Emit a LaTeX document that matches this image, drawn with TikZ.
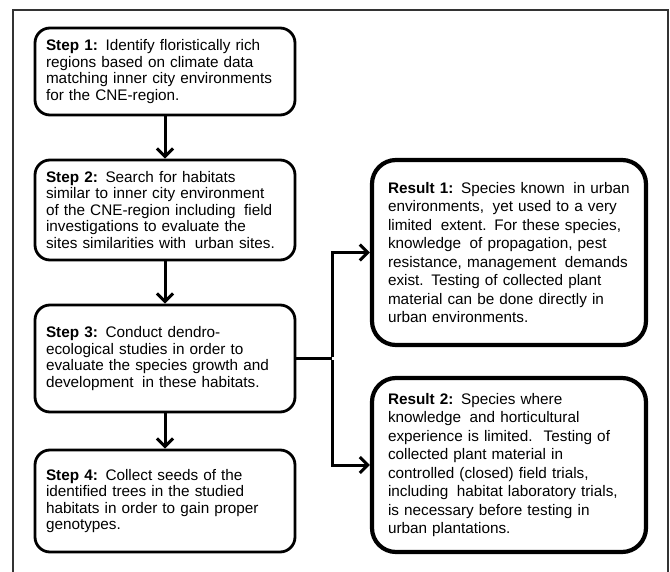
\documentclass[tikz,border=0pt]{standalone}
\usepackage{fontspec}
\setmainfont{Liberation Sans}
\usepackage[none]{hyphenat}
\usetikzlibrary{arrows.meta,calc}
\newcommand{\wgap}{\hspace{3.5pt}}

\begin{document}
\begin{tikzpicture}[x=1pt,y=1pt,
    stepbox/.style={draw,line width=2.8pt,rounded corners=15pt,text width=238pt,inner xsep=11pt,
      minimum width=260pt,align=left,font=\fontsize{15.3}{16.5}\selectfont},
    resultbox/.style={draw,line width=4.2pt,rounded corners=24pt,text width=242pt,inner xsep=16pt,
      minimum width=274pt,align=left,font=\fontsize{15.3}{18.5}\selectfont},
    flow/.style={line width=3pt,-{Straight Barb[length=8pt,width=16pt,line width=3pt]}}]
  \useasboundingbox (0,0) rectangle (670,-572);
  % outer frame, open at the bottom
  \draw[line width=1.4pt,black!80] (13,-572) -- (13,-10) -- (668,-10) -- (668,-572);

  % left column
  \node[stepbox,minimum height=87pt] (step1) at (165,-71.5)
    {\textbf{Step 1:} Identify floristically rich\\regions based on climate data\\matching inner city environments\\for the CNE-region.};
  \node[stepbox,minimum height=100pt] (step2) at (165,-210)
    {\textbf{Step 2:} Search for habitats\\similar to inner city environment\\of the CNE-region including\wgap{} field\\investigations to evaluate the\\sites similarities with\wgap{} urban sites.};
  \node[stepbox,minimum height=107pt] (step3) at (165,-358.5)
    {\textbf{Step 3:} Conduct dendro-\\ecological studies in order to\\evaluate the species growth and\\development\wgap{} in these habitats.};
  \node[stepbox,minimum height=102pt] (step4) at (165,-501)
    {\textbf{Step 4:} Collect seeds of the\\identified trees in the studied\\habitats in order to gain proper\\genotypes.};

  % right column
  \node[resultbox,minimum height=185pt] (result1) at (509,-252.5)
    {\textbf{Result 1:} Species known\wgap{} in urban\\environments,\wgap{} yet used to a very\\limited\wgap{} extent. For these species,\\knowledge\wgap{} of propagation, pest\\resistance, management\wgap{} demands\\exist. Testing of collected plant\\material can be done directly in\\urban environments.};
  \node[resultbox,minimum height=174pt] (result2) at (509,-465)
    {\textbf{Result 2:} Species where\\knowledge\wgap{} and horticultural\\experience is limited.\wgap{} Testing of\\collected plant material in\\controlled (closed) field trials,\\including\wgap{} habitat laboratory trials,\\is necessary before testing in\\urban plantations.};

  \draw[flow] (step1) -- (step2);
  \draw[flow] (step2) -- (step3);
  \draw[flow] (step3) -- (step4);

  \coordinate (fork) at (332,-358.5);
  \draw[line width=3pt] (step3.east) -- (fork);
  \draw[flow] ($(fork)+(0,1.5)$) |- (result1.west);
  \draw[flow] ($(fork)-(0,1.5)$) |- (result2.west);
\end{tikzpicture}
\end{document}
